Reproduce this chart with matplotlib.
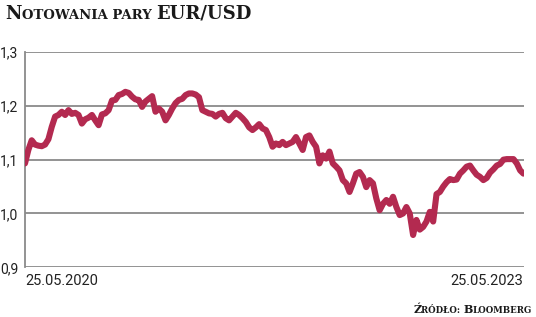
import numpy as np
import pandas as pd
import matplotlib
matplotlib.use("Agg")
import matplotlib.pyplot as plt

# EUR/USD rate, evenly spaced from 25.05.2020 to 25.05.2023
rate = [
    1.093, 1.118, 1.136, 1.128, 1.126, 1.125, 1.128, 1.138, 1.161, 1.180,
    1.183, 1.189, 1.183, 1.192, 1.185, 1.187, 1.183, 1.167, 1.175, 1.178,
    1.183, 1.173, 1.164, 1.184, 1.186, 1.192, 1.210, 1.211, 1.220, 1.222,
    1.226, 1.224, 1.217, 1.212, 1.211, 1.198, 1.208, 1.213, 1.218, 1.189,
    1.195, 1.189, 1.173, 1.183, 1.195, 1.205, 1.211, 1.213, 1.220, 1.223,
    1.223, 1.221, 1.216, 1.192, 1.189, 1.186, 1.185, 1.180, 1.185, 1.187,
    1.177, 1.173, 1.180, 1.187, 1.183, 1.177, 1.170, 1.160, 1.155, 1.160,
    1.166, 1.158, 1.155,
    1.142, 1.124, 1.130, 1.127, 1.133, 1.127, 1.130, 1.133, 1.142, 1.130,
    1.118, 1.142, 1.145, 1.133, 1.124, 1.093, 1.108, 1.102, 1.115, 1.093,
    1.087, 1.080, 1.062, 1.056, 1.040, 1.056, 1.074, 1.077, 1.068, 1.049,
    1.062, 1.056, 1.028, 1.006, 1.018, 1.025, 1.018, 1.031, 1.012, 0.997,
    1.000, 1.012, 1.000, 0.960, 0.988, 0.970, 0.975, 0.985, 1.003, 0.985,
    1.036, 1.040, 1.050, 1.058, 1.064, 1.062, 1.063, 1.074, 1.080, 1.087,
    1.089, 1.080, 1.072, 1.068, 1.062, 1.066, 1.076, 1.082, 1.089, 1.092,
    1.100, 1.101, 1.101, 1.101, 1.093, 1.080, 1.074,
]
start, end = "2020-05-25", "2023-05-25"
yticks = [0.9, 1.0, 1.1, 1.2, 1.3]
ytick_labels = ["0,9", "1,0", "1,1", "1,2", "1,3"]
date_labels = ["25.05.2020", "25.05.2023"]

dates = pd.date_range(start, end, periods=len(rate))

W, H = 536, 317
fig = plt.figure(figsize=(W / 100, H / 100), dpi=100)
ax = fig.add_axes([25 / W, 1 - 267.3 / H, 498.5 / W, 215.3 / H])

grid_c = "#8a8a8a"
for v in yticks:
    ax.axhline(v, color=grid_c, lw=1.3, zorder=1)
ax.plot(dates, rate, color="#b32a50", lw=4.4, solid_joinstyle="round",
        solid_capstyle="round", zorder=3)

ax.set_xlim(pd.Timestamp(start), pd.Timestamp(end))
ax.set_ylim(0.9, 1.3)
for s in ["top", "right", "bottom"]:
    ax.spines[s].set_visible(False)
ax.spines["left"].set_color(grid_c)
ax.spines["left"].set_linewidth(1.3)

ax.set_yticks(yticks)
ax.set_yticklabels(ytick_labels, fontsize=10, color="#222222", family="Roboto")
ax.tick_params(axis="y", length=0, pad=5)

ax.set_xticks([pd.Timestamp(start), pd.Timestamp(end)])
ax.set_xticklabels(date_labels, fontsize=10.5, color="#222222", family="Roboto")
ax.tick_params(axis="x", length=0, pad=5)
labs = ax.get_xticklabels()
labs[0].set_ha("left")
labs[1].set_ha("right")


# small caps made of big and small capital letters
def small_caps(x_px, y_px, parts, big, small, right=False):
    fig.canvas.draw()
    r = fig.canvas.get_renderer()
    x = x_px
    texts = []
    for txt, is_big in parts:
        t = fig.text(x / W, 1 - y_px / H, txt, fontsize=big if is_big else small,
                     family="DejaVu Serif", weight="bold", color="#1a1a1a",
                     va="baseline", ha="left")
        x = t.get_window_extent(r).x1
        texts.append(t)
    if right:
        shift = x - x_px
        for t in texts:
            px, py = t.get_position()
            t.set_x(px - shift / W)


small_caps(5, 19, [("N", True), ("OTOWANIA PARY ", False), ("EUR/USD", True)],
           13, 9.5)
small_caps(532, 313, [("Ź", True), ("RÓDŁO: ", False), ("B", True),
                      ("LOOMBERG", False)], 8, 6.2, right=True)

fig.savefig("out.png", dpi=100)
